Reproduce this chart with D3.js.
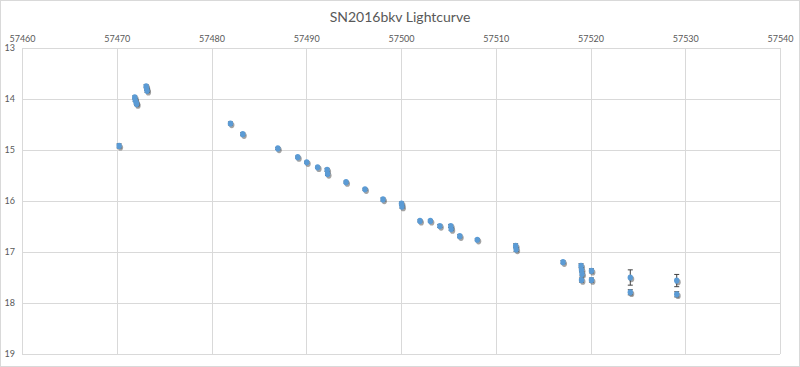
<!DOCTYPE html>
<html><head><meta charset="utf-8">
<script src="https://cdn.jsdelivr.net/npm/d3@7"></script>
<style>body{margin:0;background:#fff}svg{display:block}</style>
</head><body>
<script>
const title = "SN2016bkv Lightcurve";
const xTicks = [57460,57470,57480,57490,57500,57510,57520,57530,57540];
const yTicks = [13,14,15,16,17,18,19];
const mjd = [57470.25,57471.9,57471.95,57472.05,57472.1,57473.1,57473.15,57473.2,57482.0,57483.3,57487.0,57489.1,57490.05,57491.2,57492.2,57492.25,57494.2,57496.2,57498.1,57500.05,57500.1,57502.0,57503.1,57504.1,57505.25,57505.3,57506.2,57508.05,57512.1,57512.15,57517.1,57519.0,57519.05,57519.1,57519.05,57520.1,57520.1,57524.2,57524.2,57529.1,57529.1];
const mag = [14.92,13.97,14.02,14.07,14.1,13.75,13.8,13.84,14.48,14.69,14.97,15.14,15.24,15.34,15.39,15.47,15.63,15.77,15.97,16.05,16.11,16.39,16.39,16.49,16.49,16.55,16.69,16.76,16.88,16.95,17.2,17.27,17.35,17.43,17.55,17.37,17.55,17.5,17.79,17.56,17.83];
const err = [0.04,0.03,0.03,0.03,0.03,0.03,0.03,0.03,0.03,0.03,0.02,0.02,0.02,0.02,0.03,0.03,0.02,0.02,0.03,0.03,0.03,0.02,0.02,0.03,0.03,0.03,0.03,0.02,0.04,0.04,0.03,0.04,0.04,0.04,0.04,0.04,0.04,0.15,0.05,0.12,0.05];

const W=800,H=367;
const svg=d3.select("body").append("svg").attr("width",W).attr("height",H);
svg.append("rect").attr("x",0.5).attr("y",0.5).attr("width",W-1).attr("height",H-1).attr("fill","#fff").attr("stroke","#d9d9d9");
const x=d3.scaleLinear().domain([57460,57540]).range([22,780]);
const y=d3.scaleLinear().domain([13,19]).range([48,354]);
const font="Lato, 'Open Sans', sans-serif";

svg.append("text").attr("x",400).attr("y",22).attr("text-anchor","middle")
  .attr("font-family",font).attr("font-size",14).attr("fill","#595959").text(title);

// gridlines
const g=svg.append("g");
g.selectAll("line.v").data(xTicks).join("line")
  .attr("x1",d=>Math.round(x(d))+0.5).attr("x2",d=>Math.round(x(d))+0.5)
  .attr("y1",y(13)).attr("y2",y(19)).attr("stroke","#d9d9d9").attr("stroke-width",1);
g.selectAll("line.h").data(yTicks).join("line")
  .attr("y1",d=>Math.round(y(d))+0.5).attr("y2",d=>Math.round(y(d))+0.5)
  .attr("x1",x(57460)).attr("x2",x(57540)).attr("stroke","#d9d9d9").attr("stroke-width",1);

// axes (labels only)
const xa=svg.append("g").attr("transform",`translate(0,${y(13)})`)
  .call(d3.axisTop(x).tickValues(xTicks).tickFormat(d3.format("d")).tickSize(0).tickPadding(6));
xa.select(".domain").remove();
xa.selectAll("text").attr("font-family",font).attr("font-size",9).attr("fill","#595959");
const ya=svg.append("g").attr("transform",`translate(${x(57460)},0)`)
  .call(d3.axisLeft(y).tickValues(yTicks).tickFormat(d3.format("d")).tickSize(0).tickPadding(7));
ya.select(".domain").remove();
ya.selectAll("text").attr("font-family",font).attr("font-size",9).attr("fill","#595959");

const data=mjd.map((d,i)=>({x:d,m:mag[i],e:err[i]}));
// shadows
svg.append("g").selectAll("ellipse").data(data).join("ellipse")
  .attr("cx",d=>x(d.x)+1.3).attr("cy",d=>y(d.m)+1.6).attr("rx",2.7).attr("ry",3.1)
  .attr("fill","#333").attr("opacity",0.45);
// error bars
const eb=svg.append("g").attr("stroke","#404040").attr("stroke-width",1);
data.forEach(d=>{
  const cx=x(d.x), y1=y(d.m-d.e), y2=y(d.m+d.e);
  eb.append("line").attr("x1",cx).attr("x2",cx).attr("y1",y1).attr("y2",y2);
  eb.append("line").attr("x1",cx-2.5).attr("x2",cx+2.5).attr("y1",y1).attr("y2",y1);
  eb.append("line").attr("x1",cx-2.5).attr("x2",cx+2.5).attr("y1",y2).attr("y2",y2);
});
// markers
svg.append("g").selectAll("ellipse").data(data).join("ellipse")
  .attr("cx",d=>x(d.x)).attr("cy",d=>y(d.m)).attr("rx",2.7).attr("ry",3.1)
  .attr("fill","#5b9bd5");
</script>
</body></html>
